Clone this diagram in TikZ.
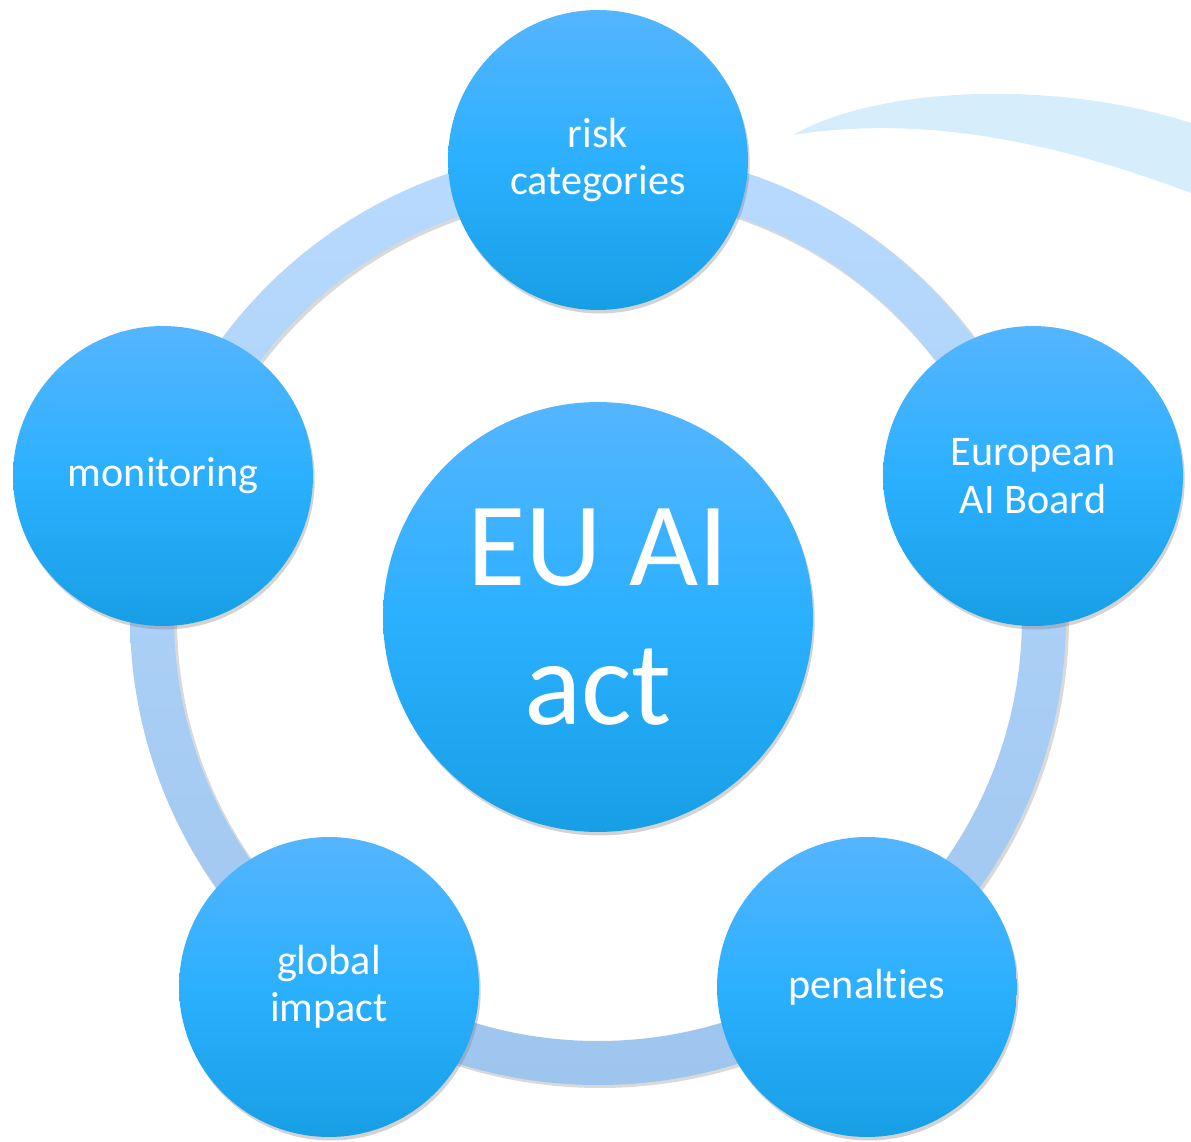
\documentclass[tikz,border=0pt]{standalone}
\usepackage{fontspec}
\setmainfont[RawFeature={-liga;-calt;-clig}]{Carlito}
\usepackage{tikz}
\usetikzlibrary{shadows}

\definecolor{balltop}{HTML}{55B5FF}
\definecolor{ballmid}{HTML}{2BB0FF}
\definecolor{ballbot}{HTML}{179FE5}
\definecolor{ringtop}{HTML}{B8DAFE}
\definecolor{ringbot}{HTML}{9EC5EE}
\definecolor{swoosh}{HTML}{D6EEFC}

\begin{document}
\begin{tikzpicture}[x=0.02cm, y=-0.02cm,
  ball/.style={circle, minimum size=6cm, inner sep=0pt, draw=none,
    top color=balltop, bottom color=ballbot, middle color=ballmid,
    text=white, align=center, font=\fontsize{24}{27}\selectfont,
    drop shadow={opacity=.35, shadow xshift=1pt, shadow yshift=-2pt}},
  bigball/.style={ball, minimum size=8.6cm, font=\fontsize{68}{79}\selectfont}]
\useasboundingbox (0,0) rectangle (1191,1142);
\clip (0,0) rectangle (1191,1142);

% swoosh top right
\fill [swoosh] (793,135) .. controls (880,85) and (1060,80) .. (1191,123)
  -- (1191,193) .. controls (1050,140) and (920,115) .. (793,135) -- cycle;

% ring
\fill [black, opacity=.15, even odd rule] (600,619) circle (469) circle (423);
\shade [top color=ringtop, bottom color=ringbot, even odd rule] (598,617) circle (468) circle (424);

\node [bigball] (act) at (598,617) {EU AI\\act};

\node [ball] (risk) at (598,160) {risk\\categories};
\node [ball] (board) at (1033,476) {European\\AI Board};
\node [ball] (penalty) at (867,987) {penalties};
\node [ball] (impact) at (329,987) {global\\impact};
\node [ball] (monitor) at (163,476) {monitoring};

\end{tikzpicture}
\end{document}
